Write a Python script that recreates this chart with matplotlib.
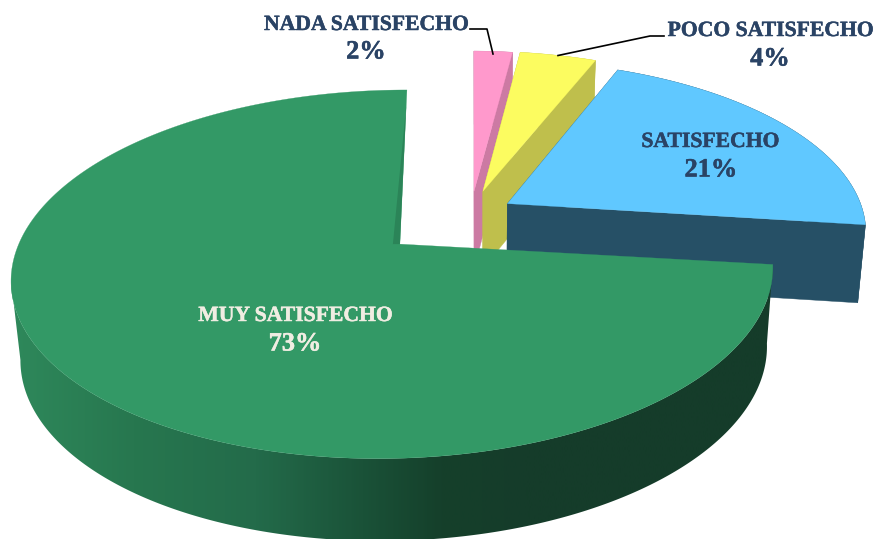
import numpy as np
import matplotlib
matplotlib.use("Agg")
import matplotlib.pyplot as plt
import matplotlib.patheffects as pe
from matplotlib.colors import LinearSegmentedColormap
from matplotlib.patches import Polygon

categories = ["NADA SATISFECHO", "POCO SATISFECHO", "SATISFECHO", "MUY SATISFECHO"]
values = [2, 4, 21, 73]
top_colors = ["#FF99CC", "#FCFC60", "#60C8FF", "#339966"]
wall_colors = ["#CC7AA3", "#BFBF4C", "#265066", "#2B8458"]
text_colors = ["#2A4365", "#2A4365", "#2A4365", "#F0EDE2"]
offsets = [(0.0, 0.19), (0.025, 0.19), (0.093, 0.115), (-0.198, -0.12)]
spin_deg = [0.0, 0.0, 0.0, -0.6]
name_pos = [(366, 25), (770, 31), (710, 142), (295, 316)]
pct_pos = [(366, 52), (770, 59), (711, 170), (295, 344)]

CX, CY, A, B, K, M = 474, 223, 366, 172, 0.16, 0.015
D0, CONV, XC = 78, 0.02, 480

W, H = 877, 539
fig = plt.figure(figsize=(W / 100, H / 100), dpi=100)
ax = fig.add_axes([0, 0, 1, 1])


def top(u, v):
    w = 1 + K * v + M * u
    return CX + A * u / w, CY - B * v / w


def bottom(u, v):
    x, y = top(u, v)
    return x - (x - XC) * CONV, y + D0 * (1 - 0.05 * v)


side_cmap = LinearSegmentedColormap.from_list(
    "side",
    [(0.0, "#2F8A5C"), (0.17, "#27774F"), (0.33, "#236B4A"), (0.47, "#1A5238"),
     (0.57, "#15402B"), (0.68, "#153C2A"), (1.0, "#153C2A")],
)

fractions = np.array(values) / sum(values)
edges = np.concatenate([[0], np.cumsum(fractions)]) * 2 * np.pi

for i in range(len(values)):
    t = np.linspace(edges[i], edges[i + 1], max(12, int(values[i] * 8))) + np.radians(spin_deg[i])
    du, dv = offsets[i]
    u = du + np.sin(t)
    v = dv + np.cos(t)
    ax0, ay0 = top(du, dv)
    tx, ty = top(u, v)
    if i < 3:
        for idx in (0, -1):
            uu = np.array([du, u[idx]])
            vv = np.array([dv, v[idx]])
            cx, cy = top(uu, vv)
            bx, by = bottom(uu, vv)
            ax.fill(np.r_[cx, bx[::-1]], np.r_[cy, by[::-1]], color=wall_colors[i], lw=0.3, zorder=i * 3 + 1)
        bx, by = bottom(u, v)
        ax.fill(np.r_[tx, bx[::-1]], np.r_[ty, by[::-1]], color=wall_colors[i], lw=0.3, zorder=i * 3 + 2)
    else:
        stop = int(np.argmin(tx)) + 1
        bx, by = bottom(u[:stop], v[:stop])
        outline = np.column_stack([np.r_[tx[:stop], bx[::-1]], np.r_[ty[:stop], by[::-1]]])
        clip = Polygon(outline, closed=True, transform=ax.transData, fc="none", ec="none")
        ax.add_patch(clip)
        gradient = side_cmap(np.linspace(0, W / 772, 400).clip(0, 1))[None, :, :]
        im = ax.imshow(gradient, extent=(0, W, H, 0), aspect="auto", zorder=i * 3 + 2, interpolation="bilinear")
        im.set_clip_path(clip)
    ax.fill(np.r_[ax0, tx], np.r_[ay0, ty], color=top_colors[i], lw=0.2, zorder=i * 3 + 3)
    if i == 3:
        # the cut wall that shows through next to the gap
        ex, ey = top(np.array([du + 0.88 * np.sin(t[-1])]), np.array([dv + 0.88 * np.cos(t[-1])]))
        ax.fill([ax0 - 7, ax0, ex[0]], [ay0, ay0, ey[0]], color=wall_colors[i], lw=0, zorder=i * 3 + 4)

ax.set_xlim(0, W)
ax.set_ylim(H, 0)
ax.axis("off")

stroke = lambda c: [pe.withStroke(linewidth=0.35, foreground=c)]
for name, val, col, p, q in zip(categories, values, text_colors, name_pos, pct_pos):
    ax.text(p[0], p[1], name, color=col, ha="center", va="center", family="Liberation Serif",
            fontweight="bold", fontsize=15.6, zorder=30, path_effects=stroke(col))
    ax.text(q[0], q[1], f"{val}%", color=col, ha="center", va="center", family="Liberation Serif",
            fontweight="bold", fontsize=19, zorder=30, path_effects=stroke(col))

ax.plot([470, 487, 493], [29, 29, 54], color="black", lw=1.2, zorder=31)
ax.plot([664, 650, 558], [36, 36, 55.5], color="black", lw=1.2, zorder=31)

fig.savefig("out.png", dpi=100)
